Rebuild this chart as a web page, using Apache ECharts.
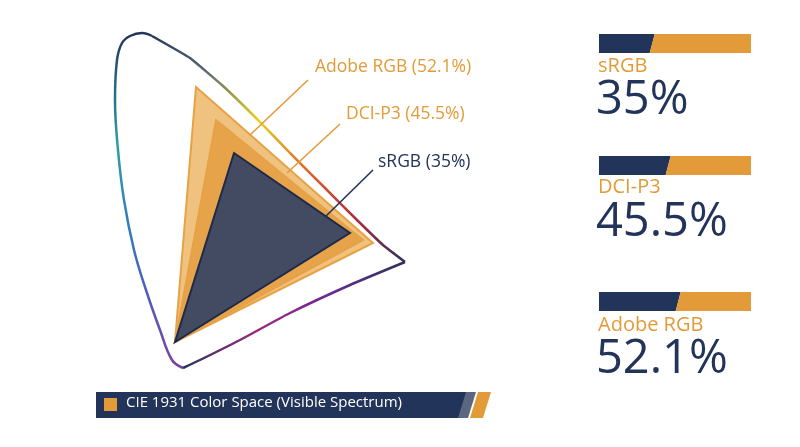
<!DOCTYPE html>
<html><head><meta charset="utf-8">
<script src="https://cdn.jsdelivr.net/npm/echarts@6/dist/echarts.min.js"></script>
<style>html,body{margin:0;background:#fff}#c{width:800px;height:447px}</style>
</head><body><div id="c"></div>
<script>
// Diagram space coordinates (units of the drawing plane)
const locusLeft = [[183,368],[172,360],[160,330],[146,290],[134,250],[124,200],[118,150],[115,100],[117,60],[122,43],[130,36],[142,33],[152,36]];
const locusRight = [[152,36],[190,58],[223,86],[258,120],[290,153],[325,188],[357,220],[383,245],[405,262]];
const locusBottom = [[405,262],[350,285],[290,313],[240,340],[200,360],[183,368]];
const gamutNames = ['Adobe RGB','DCI-P3','sRGB'];
const gamutValues = [52.1, 45.5, 35];
const adobeTri = [[196,87],[373,243],[175,342]];
const dciTri = [[216,120],[363,240],[175,342]];
const srgbTri = [[234,153],[350,233],[175,342]];
const leaderLines = [[[308,80],[250,135]],[[340,124],[287,173]],[[373,170],[325,217]]];
const legendLabel = 'CIE 1931 Color Space (Visible Spectrum)';

const NAVY='#23345a', ORANGE='#e29b38', FONT='"Open Sans", Lato, sans-serif';
const chart = echarts.init(document.getElementById('c'));
const grad = (stops, x2, y2) => new echarts.graphic.LinearGradient(0,0,x2,y2,stops.map((c,i)=>({offset:i/(stops.length-1),color:c})));
function tri(name, pts, fill, stroke, z){
  return {type:'custom', name, xAxisIndex:0, yAxisIndex:0, z, coordinateSystem:'cartesian2d', data:[0],
    renderItem:(p,api)=>({type:'polygon', shape:{points:pts.map(q=>api.coord(q))}, style:{fill, stroke, lineWidth:2, lineJoin:'miter'}})};
}
function line(pts,color,z,sm){
  return {type:'line', xAxisIndex:0,yAxisIndex:0, data:pts, symbol:'none', smooth:sm, z, silent:true,
    lineStyle:{width:2.5,color}};
}
const barRows = [[34,53],[156,175],[292,311]];
const barOrder = [2,1,0];
const series = [
  line(locusLeft, grad([NAVY,'#2a9fa3','#3a6fc0','#7a3fa0'],0,1), 2, 0.4),
  line(locusRight, grad([NAVY,'#5a6a70','#e5d21a','#e0652a','#b02a40',NAVY],1,1), 2, 0.1),
  line(locusBottom, grad([NAVY,'#9a2a80','#6a2a90',NAVY],1,0), 2, 0.2),
  tri('Adobe RGB', adobeTri, '#f0c27f', '#e6a245', 3),
  tri('DCI-P3', dciTri, '#e6a349', '#e6a245', 4),
  tri('sRGB', srgbTri, '#434b63', '#1e2a4a', 5),
  ...leaderLines.map((l,i)=>({type:'line',xAxisIndex:0,yAxisIndex:0,data:l,symbol:'none',z:6,lineStyle:{width:1.6,color:i==2?NAVY:ORANGE}})),
  {type:'custom', coordinateSystem:'cartesian2d', xAxisIndex:1, yAxisIndex:1, data: barOrder.map((g,i)=>[gamutValues[g], barRows[i][0], barRows[i][1]]),
   renderItem:(p,api)=>{
     const v=api.value(0), t=api.value(1), b=api.value(2);
     const a=api.coord([0,t]), m=api.coord([v,t]), e=api.coord([100,t]), yb=api.coord([v,b])[1];
     const s=2.5;
     return {type:'group',children:[
       {type:'polygon',shape:{points:[[a[0],a[1]],[m[0]+s,a[1]],[m[0]-s,yb],[a[0],yb]]},style:{fill:NAVY}},
       {type:'polygon',shape:{points:[[m[0]+s,a[1]],[e[0],a[1]],[e[0],yb],[m[0]-s,yb]]},style:{fill:ORANGE}}
     ]};
   }}
];
const txt=(x,y,text,size,color)=>({type:'text',left:x,top:y,style:{text,fontSize:size,fill:color,fontFamily:FONT}});
chart.setOption({
  animation:false,
  grid:[{left:0,top:0,width:800,height:447},{left:599,top:0,width:152,height:447}],
  xAxis:[{type:'value',min:0,max:800,show:false,gridIndex:0},{type:'value',min:0,max:100,show:false,gridIndex:1}],
  yAxis:[{type:'value',min:0,max:447,inverse:true,show:false,gridIndex:0},{type:'value',min:0,max:447,inverse:true,show:false,gridIndex:1}],
  series,
  graphic:[
    txt(315,58,gamutNames[0]+' ('+gamutValues[0]+'%)',17.5,ORANGE),
    txt(346,105,gamutNames[1]+' ('+gamutValues[1]+'%)',17.5,ORANGE),
    txt(378,153,gamutNames[2]+' ('+gamutValues[2]+'%)',17.5,NAVY),
    {type:'polygon',shape:{points:[[96,392],[474,392],[466,418],[96,418]]},style:{fill:NAVY}},
    {type:'polygon',shape:{points:[[466,392],[476,392],[468,418],[458,418]]},style:{fill:'#5b6780'}},
    {type:'polygon',shape:{points:[[478,392],[491,392],[483,418],[470,418]]},style:{fill:ORANGE}},
    {type:'rect',shape:{x:104,y:398,width:13,height:13},style:{fill:ORANGE}},
    txt(126,395,legendLabel,15,'#ffffff'),
    txt(598,56,gamutNames[2],20,ORANGE), txt(596,77,gamutValues[2]+'%',47,NAVY),
    txt(598,177,gamutNames[1],20,ORANGE), txt(596,199,gamutValues[1]+'%',47,NAVY),
    txt(598,315,gamutNames[0],20,ORANGE), txt(596,336,gamutValues[0]+'%',47,NAVY)
  ]
});
</script></body></html>
